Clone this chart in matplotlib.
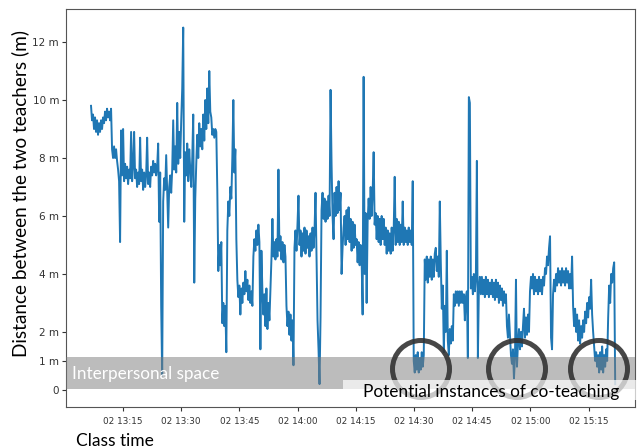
import matplotlib
matplotlib.use("Agg")
import matplotlib.pyplot as plt
import matplotlib.dates as mdates
from matplotlib.patches import Ellipse, Rectangle
import numpy as np
import pandas as pd

# distance between the two teachers (m), one reading every 15.5 s from 13:06:45
dist_m = [
    9.8, 9.3, 9.5, 9.0, 9.4, 8.9, 9.3, 8.8, 9.2, 8.9,
    9.3, 9.0, 9.4, 9.2, 9.6, 9.3, 9.7, 9.4, 9.6, 9.3,
    9.7, 8.3, 8.0, 8.4, 8.0, 8.3, 7.9, 7.6, 7.2, 5.1,
    8.95, 7.4, 9.0, 7.2, 7.8, 7.3, 7.7, 7.1, 7.6, 7.3,
    8.9, 7.2, 7.7, 8.9, 7.3, 7.6, 7.0, 7.5, 7.1, 8.7,
    7.2, 7.6, 6.9, 7.5, 7.0, 7.4, 8.7, 7.1, 7.5, 7.0,
    7.7, 7.4, 7.9, 7.5, 7.8, 7.4, 7.7, 8.5, 5.8, 7.5,
    2.9, 0.5, 6.5, 7.3, 6.9, 8.1, 6.8, 5.6, 7.0, 7.4,
    6.8, 7.6, 9.3, 7.6, 8.4, 7.5, 9.9, 7.8, 8.9, 8.0,
    9.3, 10.4, 12.5, 5.8, 8.2, 7.4, 8.5, 7.2, 8.3, 7.6,
    7.0, 8.0, 9.5, 3.7, 6.6, 7.8, 8.8, 8.0, 9.2, 8.4,
    9.0, 8.3, 9.5, 8.6, 10.0, 9.0, 10.4, 9.2, 11.0, 9.6,
    9.4, 8.8, 9.0, 8.7, 9.0, 8.9, 6.9, 4.1, 5.0, 4.3,
    5.1, 2.3, 3.0, 2.2, 2.9, 1.3, 5.5, 6.5, 6.0, 7.0,
    6.6, 8.0, 10.0, 7.5, 8.3, 5.2, 3.8, 3.2, 3.6, 2.6,
    3.5, 3.0, 3.7, 3.3, 4.1, 3.4, 3.8, 3.1, 3.6, 3.0,
    3.4, 2.9, 4.6, 5.2, 4.8, 5.5, 5.0, 5.7, 5.1, 1.4,
    4.8, 3.4, 2.6, 3.3, 2.2, 3.5, 2.1, 3.0, 2.4, 3.4,
    4.5, 5.9, 4.6, 5.1, 4.5, 5.2, 4.6, 7.6, 4.8, 5.3,
    4.5, 5.1, 4.4, 5.0, 4.6, 2.9, 2.2, 2.7, 1.9, 2.6,
    1.7, 2.4, 0.85, 4.9, 5.5, 4.8, 5.7, 6.7, 5.0, 5.5,
    4.6, 5.4, 4.8, 5.6, 4.7, 5.5, 4.9, 5.3, 4.6, 5.4,
    4.8, 5.6, 4.9, 5.5, 6.8, 4.6, 2.4, 1.4, 0.2, 2.5,
    6.2, 6.8, 5.9, 6.6, 5.8, 6.5, 5.9, 6.7, 6.0, 10.35,
    7.8, 6.0, 5.2, 6.8, 6.0, 7.0, 6.1, 7.2, 6.2, 6.8,
    4.0, 4.9, 5.6, 6.0, 5.0, 6.2, 5.2, 6.3, 5.1, 5.9,
    4.8, 5.8, 4.9, 5.7, 5.0, 5.2, 4.4, 5.1, 4.3, 5.0,
    4.5, 2.6, 10.8, 4.0, 6.1, 3.0, 5.8, 6.6, 5.9, 7.0,
    6.0, 6.8, 8.2, 5.7, 6.1, 5.2, 6.0, 5.1, 5.9, 5.0,
    6.0, 5.2, 5.9, 5.0, 5.6, 4.7, 5.5, 4.8, 5.4, 4.7,
    5.6, 4.8, 5.5, 7.35, 5.0, 5.9, 5.1, 5.8, 5.0, 5.7,
    5.1, 6.5, 5.0, 5.6, 5.1, 5.5, 5.0, 5.6, 5.1, 5.5,
    5.0, 7.2, 1.0, 0.6, 1.2, 0.7, 1.3, 0.6, 1.1, 0.7,
    1.3, 0.8, 1.2, 4.5, 3.8, 4.6, 3.7, 4.5, 3.9, 4.6,
    3.8, 4.5, 3.9, 4.7, 4.9, 4.1, 4.6, 3.9, 6.5, 4.4,
    2.8, 3.6, 1.3, 2.9, 2.0, 4.8, 1.7, 1.2, 2.1, 1.6,
    2.2, 1.7, 3.3, 2.9, 3.4, 3.0, 3.4, 2.9, 3.4, 3.0,
    3.4, 3.0, 3.3, 2.4, 3.2, 3.4, 1.1, 10.1, 9.9, 3.5,
    3.9, 3.3, 4.0, 3.4, 3.9, 7.9, 1.1, 3.5, 3.9, 3.3,
    3.9, 3.3, 3.8, 3.2, 3.9, 3.3, 3.8, 3.2, 3.7, 3.3,
    3.8, 3.2, 3.7, 3.1, 3.8, 3.2, 3.7, 3.0, 3.6, 3.1,
    3.5, 2.9, 3.4, 3.0, 3.3, 2.2, 1.8, 2.6, 1.9, 1.2,
    0.9, 1.4, 0.4, 1.1, 3.8, 0.8, 1.6, 2.1, 1.4, 2.0,
    1.5, 2.2, 2.8, 1.8, 2.5, 1.9, 2.6, 2.0, 3.4, 3.9,
    3.5, 4.0, 3.3, 3.9, 3.4, 3.8, 3.3, 3.9, 3.4, 3.8,
    3.3, 3.9, 3.6, 4.2, 4.0, 4.6, 4.3, 4.9, 5.3, 1.8,
    1.4, 3.3, 3.8, 3.4, 4.0, 3.6, 4.2, 3.7, 4.1, 3.6,
    4.2, 3.7, 4.1, 3.6, 4.2, 3.7, 4.1, 3.5, 4.0, 3.5,
    4.6, 2.9, 2.2, 2.8, 2.0, 2.6, 1.7, 2.4, 1.6, 2.2,
    1.8, 2.4, 2.0, 2.7, 2.3, 3.0, 2.5, 3.2, 2.8, 3.8,
    2.6, 2.0, 1.5, 1.0, 1.3, 0.8, 1.2, 0.6, 1.3, 0.7,
    1.5, 0.6, 1.2, 0.8, 1.4, 1.0, 2.5, 3.6, 3.0, 4.0,
    3.7, 4.2, 4.4, 0.2,
]
t_start = pd.Timestamp("2020-03-02 13:06:45")
t_step = pd.Timedelta(seconds=15.5)
times = t_start + t_step * np.arange(len(dist_m))

y_ticks = [0, 1, 2, 4, 6, 8, 10, 12]
y_tick_labels = ["0", "1 m", "2 m", "4 m", "6 m", "8 m", "10 m", "12 m"]

x_min = pd.Timestamp("2020-03-02 13:00:18")
x_max = pd.Timestamp("2020-03-02 15:26:58")

ui_font = ["Lato", "DejaVu Sans"]

fig = plt.figure(figsize=(6.38, 4.48), dpi=100)
ax = fig.add_axes([66 / 638, 41 / 448, 569 / 638, 398 / 448])

ax.plot(times, dist_m, color="#1f77b4", linewidth=1.4, zorder=2)
ax.axhspan(0.03, 1.12, color="#7a7a7a", alpha=0.5, linewidth=0, zorder=3)

ax.set_xlim(x_min, x_max)
ax.set_ylim(-0.59, 13.14)
ax.xaxis.set_major_locator(mdates.MinuteLocator(byminute=[0, 15, 30, 45]))
ax.xaxis.set_major_formatter(mdates.DateFormatter("%d %H:%M"))
ax.set_yticks(y_ticks)
ax.set_yticklabels(y_tick_labels)
ax.tick_params(axis="x", labelsize=6.4, colors="#333333", length=3, pad=4)
ax.tick_params(axis="y", labelsize=7.5, colors="#333333", length=3, pad=2)
for s in ax.spines.values():
    s.set_color("#555555")
    s.set_linewidth(0.8)

fig.text(20 / 638, 0.569, "Distance between the two teachers (m)", rotation=90,
         ha="center", va="center", fontsize=13.7, family=ui_font)
fig.text(76 / 638, 2 / 448, "Class time", ha="left", va="baseline",
         fontsize=12.5, family=ui_font)
fig.text(72 / 638, (448 - 379) / 448, "Interpersonal space", ha="left",
         va="baseline", fontsize=12.3, color="white", family=ui_font, zorder=5)

# circles around the co-teaching moments
for cx in [421, 517, 599]:
    ring = Ellipse((cx / 638, (448 - 369) / 448), 57 / 638, 57 / 448,
                   transform=fig.transFigure, fill=False, edgecolor="#333333",
                   linewidth=3.6, alpha=0.9, zorder=6)
    fig.add_artist(ring)

box = Rectangle((343 / 638, 48 / 448), 295 / 638, 20 / 448, transform=fig.transFigure,
                facecolor="white", edgecolor="none", alpha=0.7, zorder=7)
fig.add_artist(box)
fig.text(363 / 638, (448 - 397) / 448, "Potential instances of co-teaching",
         ha="left", va="baseline", fontsize=12.4, color="black", family=ui_font, zorder=8)

fig.savefig("out.png", dpi=100)
